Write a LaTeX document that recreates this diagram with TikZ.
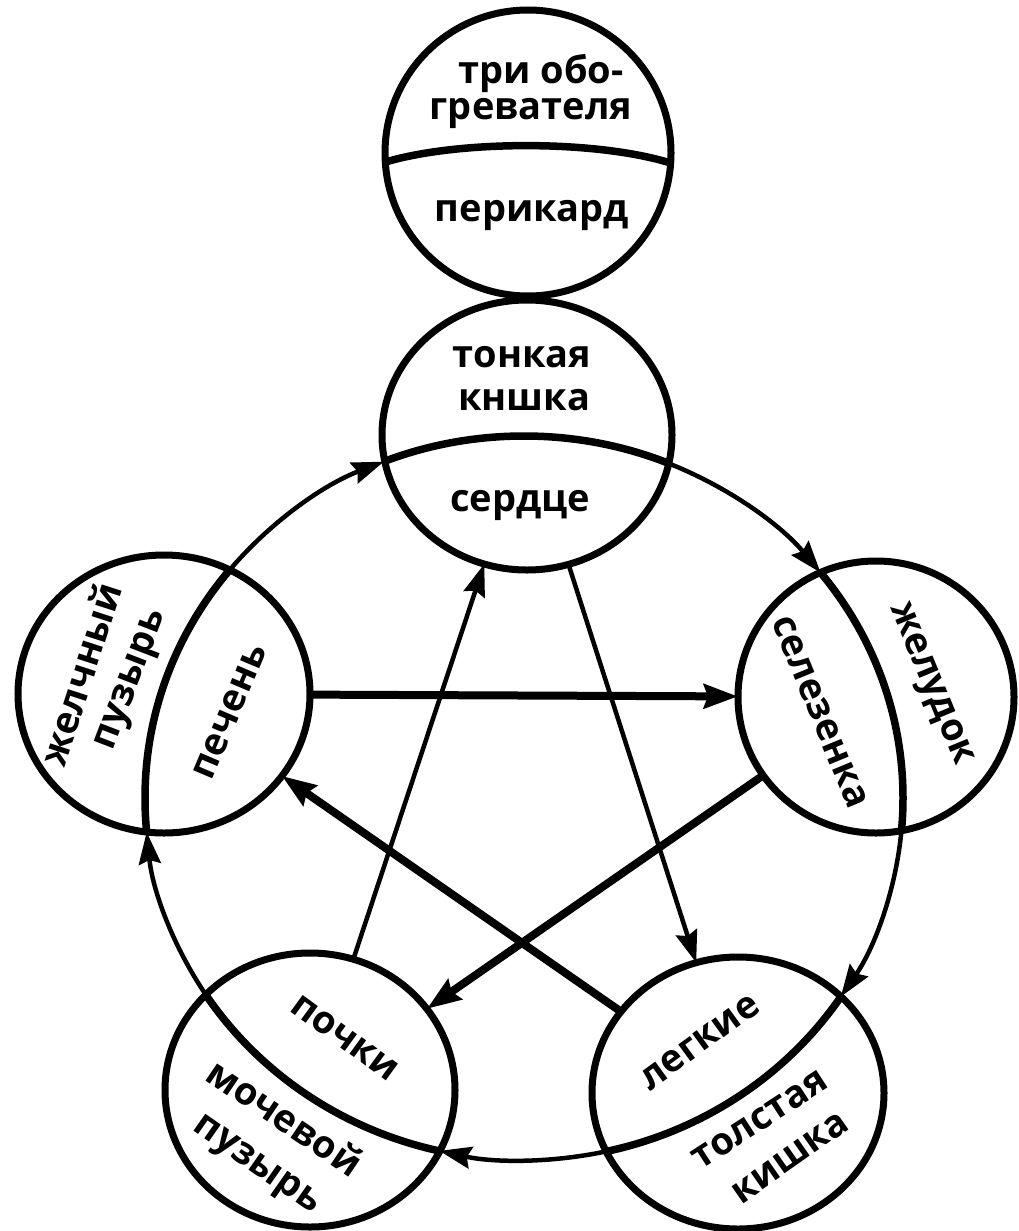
\documentclass[tikz,border=0pt]{standalone}
\usepackage{fontspec}
\setmainfont{Open Sans}
\usetikzlibrary{arrows.meta,shapes.geometric,calc}
\begin{document}
\begin{tikzpicture}[x=1pt,y=-1pt,
  organ/.style={ellipse, draw, line width=7pt, inner sep=0pt, outer sep=0pt},
  divider/.style={line width=7.5pt},
  flow/.style={line width=4.5pt, -{Stealth[length=32pt,width=22pt,inset=4pt]}},
  strong/.style={line width=8pt, -{Stealth[length=34pt,width=24pt,inset=4pt]}},
  weak/.style={line width=4.5pt, -{Stealth[length=32pt,width=22pt,inset=4pt]}},
  lbl/.style={font=\fontsize{38}{42}\selectfont\bfseries, inner sep=0pt, text height=21pt, text depth=0pt, anchor=center}
]
\useasboundingbox (0,0) rectangle (1019,1231);
\fill[white] (0,0) rectangle (1019,1231);

% organ circles
\node[organ, minimum width=286pt, minimum height=286pt] (peri) at (528,153) {};
\node[organ, minimum width=290pt, minimum height=270pt] (heart) at (527,435) {};
\node[organ, minimum width=292pt, minimum height=278pt] (liver) at (164,694) {};
\node[organ, minimum width=276pt, minimum height=272pt] (spleen) at (876,697) {};
\node[organ, minimum width=292pt, minimum height=272pt] (lungs) at (738,1093) {};
\node[organ, minimum width=290pt, minimum height=274pt] (kidneys) at (310,1090) {};

\coordinate (cyc) at (524,798);

% divider of the top circle
\draw[divider] (385.5,162) .. controls (460,140) and (596,140) .. (670.5,163);

% dividers: the cycle inside each circle
\foreach \cx/\cy/\rx/\ry in {527/435/145/135, 164/694/146/139, 876/697/138/136, 738/1093/146/136, 310/1090/145/137}{
  \begin{scope}
    \clip (\cx,\cy) ellipse [x radius=\rx, y radius=\ry];
    \draw[divider] (cyc) ellipse [x radius=379, y radius=362];
  \end{scope}
}

% cycle arrows (thin arcs between circles)
\draw[flow] ($(cyc)+(219:379 and 362)$) arc[start angle=219, end angle=248.3, x radius=379, y radius=362];
\draw[flow] ($(cyc)+(292.3:379 and 362)$) arc[start angle=292.3, end angle=321.5, x radius=379, y radius=362];
\draw[flow] ($(cyc)+(5.2:379 and 362)$) arc[start angle=5.2, end angle=33.3, x radius=379, y radius=362];
\draw[flow] ($(cyc)+(77.5:379 and 362)$) arc[start angle=77.5, end angle=102.9, x radius=379, y radius=362];
\draw[flow] ($(cyc)+(147:379 and 362)$) arc[start angle=147, end angle=174.6, x radius=379, y radius=362];

% star connectors
\draw[strong] (liver) -- (spleen);
\draw[strong] (spleen) -- (kidneys);
\draw[strong] (lungs) -- (liver);
\draw[weak] (kidneys) -- (heart);
\draw[weak] (heart) -- (lungs);

% labels
\node[lbl] (t1) at (541,73.5) {три обо-};
\node[lbl] (t2) at (531,109) {греватeля};
\node[lbl] (t3) at (532,211) {перикард};
\node[lbl] (h1) at (522,357) {тонкая};
\node[lbl] (h2) at (524,400) {кншка};
\node[lbl] (h3) at (520,501) {сердце};
\node[lbl, rotate=72] (l1) at (84,675) {желчный};
\node[lbl, rotate=69] (l2) at (129,679) {пузырь};
\node[lbl, rotate=67] (l3) at (230,712) {печень};
\node[lbl, rotate=-67.5] (s1) at (820,712) {селезенка};
\node[lbl, rotate=-67.5] (s2) at (933,683) {желудок};
\node[lbl, rotate=-36] (k1) at (345,1038) {почки};
\node[lbl, rotate=-34] (k2) at (283,1120) {мочевой};
\node[lbl, rotate=-35] (k3) at (258,1163) {пузырь};
\node[lbl, rotate=36] (g1) at (700,1042) {легкие};
\node[lbl, rotate=33] (g2) at (760,1120) {толстая};
\node[lbl, rotate=35] (g3) at (790,1158) {кишка};
\end{tikzpicture}
\end{document}
